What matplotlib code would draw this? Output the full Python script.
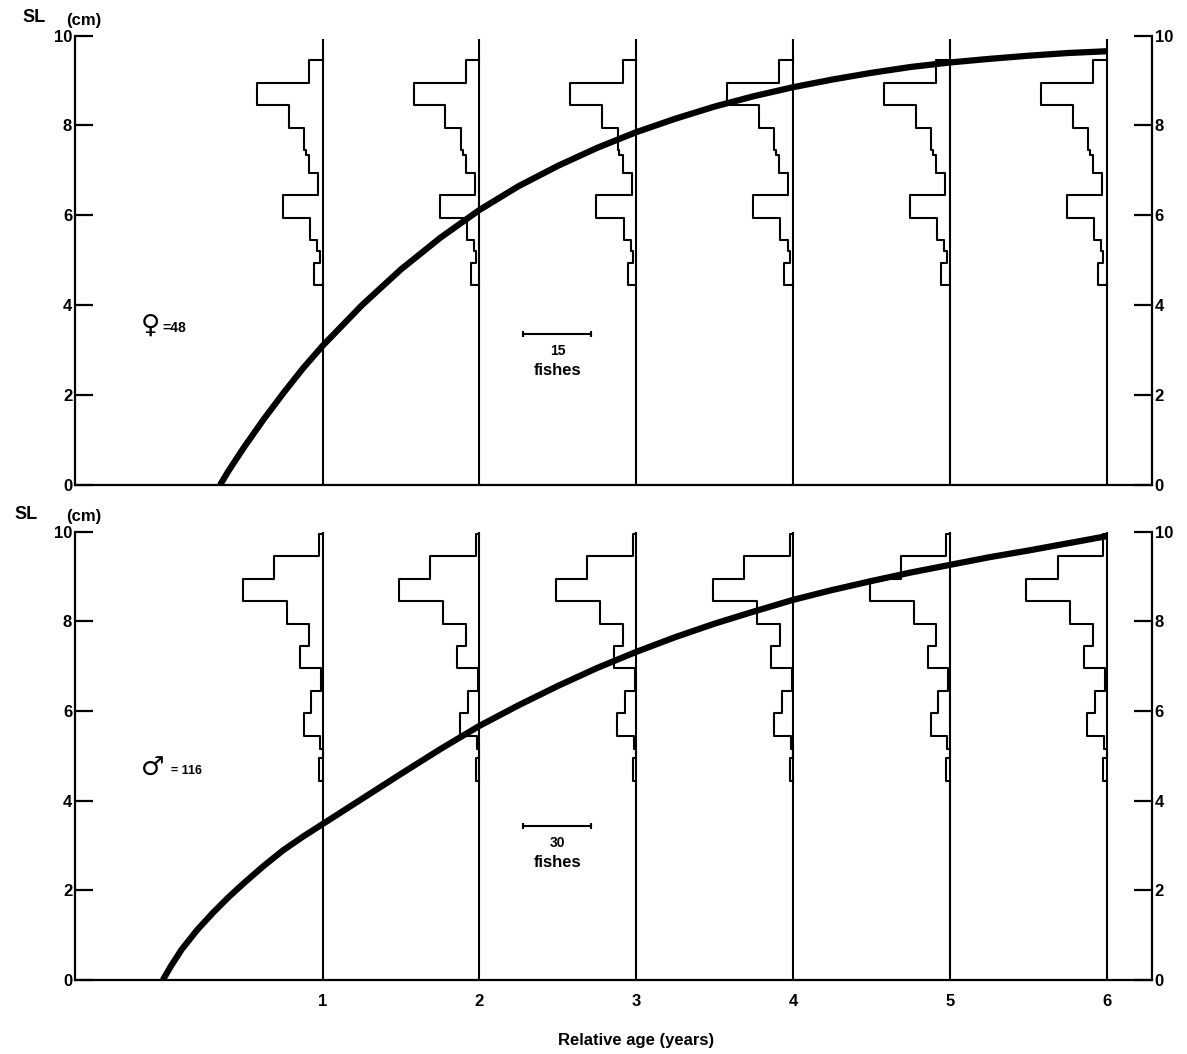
"""Growth curves with length-frequency histograms, females (top) and males (bottom)."""

import matplotlib.pyplot as plt

# ages where the length histograms are placed
hist_ages = [1, 2, 3, 4, 5, 6]

# female growth curve (age in years, SL in cm)
female_age = [0.345, 0.4, 0.5, 0.625, 0.75, 0.875, 1.0, 1.25, 1.5, 1.75, 2.0, 2.25, 2.5,
              2.75, 3.0, 3.25, 3.5, 3.75, 4.0, 4.25, 4.5, 4.75, 5.0, 5.25, 5.5, 5.75, 6.0]
female_sl = [0.0, 0.32, 0.85, 1.47, 2.05, 2.6, 3.1, 4.0, 4.8, 5.5, 6.12, 6.65, 7.1,
             7.5, 7.85, 8.15, 8.42, 8.65, 8.85, 9.02, 9.17, 9.3, 9.4, 9.48, 9.55, 9.61, 9.65]

# female length-frequency: bin edges (cm, top to bottom) and bar lengths (fishes)
female_edges = [9.45, 8.95, 8.45, 7.95, 7.45, 7.35, 6.95, 6.45, 5.95, 5.45, 5.2, 4.95, 4.45]
female_counts = [3.0, 14.5, 7.5, 4.1, 3.7, 3.0, 1.0, 8.8, 2.8, 1.2, 0.7, 1.9]

# male growth curve
male_age = [-0.02, 0.03, 0.1, 0.2, 0.3, 0.4, 0.5, 0.625, 0.75, 0.875, 1.0, 1.25, 1.5, 1.75,
            2.0, 2.25, 2.5, 2.75, 3.0, 3.25, 3.5, 3.75, 4.0, 4.25, 4.5, 4.75, 5.0, 5.25,
            5.5, 5.75, 6.0]
male_sl = [0.0, 0.3, 0.68, 1.12, 1.5, 1.85, 2.17, 2.55, 2.9, 3.2, 3.48, 4.04, 4.6, 5.15,
           5.67, 6.13, 6.56, 6.96, 7.32, 7.65, 7.95, 8.22, 8.48, 8.7, 8.9, 9.09, 9.26, 9.43,
           9.58, 9.74, 9.9]

# male length-frequency
male_edges = [9.95, 9.45, 8.95, 8.45, 7.95, 7.45, 6.95, 6.45, 5.95, 5.45, 5.15, 4.95, 4.45]
male_counts = [1.5, 21.6, 35.3, 15.9, 5.9, 9.8, 0.6, 5.0, 8.4, 1.0, 0.0, 1.5]

female_n = 48
male_n = 116
female_scale = 15  # fishes shown by the scale bar
male_scale = 30

FONT = ["Liberation Sans", "DejaVu Sans"]
SCALE_LEN = 0.434  # length of the scale bar in years
XMIN, XMAX = -0.58, 6.29


def histogram_outline(age, edges, counts, per_fish):
    xs = [age]
    ys = [edges[0]]
    for i, c in enumerate(counts):
        xs += [age - c * per_fish, age - c * per_fish]
        ys += [edges[i], edges[i + 1]]
    xs.append(age)
    ys.append(edges[-1])
    return xs, ys


def draw_panel(ax, ages, sl, edges, counts, scale_n, line_top, sym, label, sym_y, bar_y):
    per_fish = SCALE_LEN / scale_n
    for a in hist_ages:
        ax.plot([a, a], [0, line_top], color="black", lw=1.5, solid_capstyle="butt")
        xs, ys = histogram_outline(a, edges, counts, per_fish)
        ax.plot(xs, ys, color="black", lw=1.5)
    ax.plot(ages, sl, color="black", lw=4.5, solid_capstyle="butt", solid_joinstyle="round")

    # scale bar
    x0 = 2.28
    ax.plot([x0, x0 + SCALE_LEN], [bar_y, bar_y], color="black", lw=1.5,
            marker="|", markersize=4, markeredgewidth=1.5)
    ax.text(x0 + SCALE_LEN / 2, bar_y - 0.38, str(scale_n), ha="center", va="center",
            fontsize=10, fontweight="bold", family=FONT)
    ax.text(x0 + SCALE_LEN / 2, bar_y - 0.82, "fishes", ha="center", va="center",
            fontsize=12, fontweight="bold", family=FONT)

    # sex symbol and sample size
    ax.text(-0.16, sym_y, sym, ha="left", va="center", fontsize=19, fontweight="bold",
            family=["DejaVu Sans"])
    ax.text(label[1], sym_y - 0.05, label[0], ha="left", va="center",
            fontsize=label[2], fontweight="bold", family=FONT)

    ax.set_xlim(XMIN, XMAX)
    ax.set_ylim(0, 10)
    ax.set_yticks([0, 2, 4, 6, 8, 10])
    ax.spines["top"].set_visible(False)
    for s in ("left", "right", "bottom"):
        ax.spines[s].set_linewidth(1.6)
    ax.tick_params(axis="y", direction="in", length=13, width=1.6, left=True, right=True,
                   labelleft=True, labelright=True, pad=2, labelsize=12)
    for lab in ax.get_yticklabels():
        lab.set_fontweight("bold")
        lab.set_family(FONT)


fig = plt.figure(figsize=(11.87, 10.54), dpi=100)
ax_top = fig.add_axes([0.0632, 0.5398, 0.9073, 0.4265])
ax_bot = fig.add_axes([0.0632, 0.0702, 0.9073, 0.4253])

draw_panel(ax_top, female_age, female_sl, female_edges, female_counts, female_scale,
           9.93, "\u2640", ("=%d" % female_n, -0.025, 10), 3.55, 3.36)
draw_panel(ax_bot, male_age, male_sl, male_edges, male_counts, male_scale,
           10.0, "\u2642", ("= %d" % male_n, 0.03, 9), 4.72, 3.44)

ax_top.set_xticks([])
ax_bot.set_xticks(hist_ages)
ax_bot.tick_params(axis="x", length=0, pad=10, labelsize=12)
for lab in ax_bot.get_xticklabels():
    lab.set_fontweight("bold")
    lab.set_family(FONT)

# axis titles
fig.text(22 / 1187, 1 - 18 / 1054, "SL", ha="left", va="center", fontsize=13,
         fontweight="bold", family=FONT)
fig.text(66 / 1187, 1 - 21 / 1054, "(cm)", ha="left", va="center", fontsize=12,
         fontweight="bold", family=FONT)
fig.text(14 / 1187, 1 - 515 / 1054, "SL", ha="left", va="center", fontsize=13,
         fontweight="bold", family=FONT)
fig.text(66 / 1187, 1 - 517 / 1054, "(cm)", ha="left", va="center", fontsize=12,
         fontweight="bold", family=FONT)
fig.text(636 / 1187, 1 - 1040 / 1054, "Relative age (years)", ha="center", va="center",
         fontsize=12, fontweight="bold", family=FONT)

fig.savefig("out.png", dpi=100, facecolor="white")
plt.close(fig)
